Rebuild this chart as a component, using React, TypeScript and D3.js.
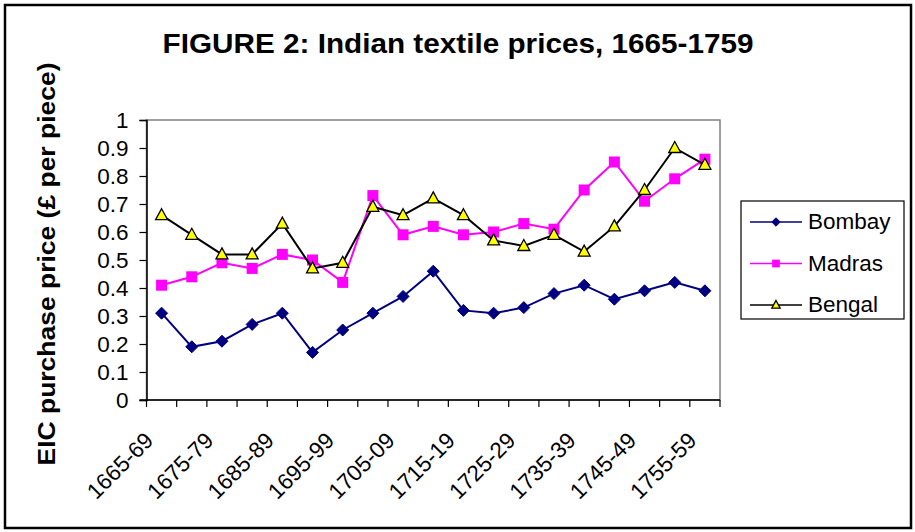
import { useEffect, useRef } from "react"
import * as d3 from "d3"

const periods = [
  "1665-69", "1670-74", "1675-79", "1680-84", "1685-89", "1690-94", "1695-99",
  "1700-04", "1705-09", "1710-14", "1715-19", "1720-24", "1725-29", "1730-34",
  "1735-39", "1740-44", "1745-49", "1750-54", "1755-59",
]
const bombay = [0.31, 0.19, 0.21, 0.27, 0.31, 0.17, 0.25, 0.31, 0.37, 0.46, 0.32, 0.31, 0.33, 0.38, 0.41, 0.36, 0.39, 0.42, 0.39]
const madras = [0.41, 0.44, 0.49, 0.47, 0.52, 0.5, 0.42, 0.73, 0.59, 0.62, 0.59, 0.6, 0.63, 0.61, 0.75, 0.85, 0.71, 0.79, 0.86]
const bengal = [0.66, 0.59, 0.52, 0.52, 0.63, 0.47, 0.49, 0.69, 0.66, 0.72, 0.66, 0.57, 0.55, 0.59, 0.53, 0.62, 0.75, 0.9, 0.84]
const yTicks = [0, 0.1, 0.2, 0.3, 0.4, 0.5, 0.6, 0.7, 0.8, 0.9, 1]

const FONT = "'Liberation Sans', Arial, sans-serif"

type Series = { name: string; values: number[]; color: string; marker: "diamond" | "square" | "triangle" }

const series: Series[] = [
  { name: "Bombay", values: bombay, color: "#000080", marker: "diamond" },
  { name: "Madras", values: madras, color: "#ff00ff", marker: "square" },
  { name: "Bengal", values: bengal, color: "#000000", marker: "triangle" },
]

function drawMarker(g: any, s: Series, x: number, y: number, k: number) {
  if (s.marker === "diamond") {
    g.append("path")
      .attr("d", `M${x},${y - 6 * k}L${x + 6 * k},${y}L${x},${y + 6 * k}L${x - 6 * k},${y}Z`)
      .attr("fill", s.color)
      .attr("stroke", s.color)
  } else if (s.marker === "square") {
    g.append("rect")
      .attr("x", x - 5.5 * k)
      .attr("y", y - 5.5 * k)
      .attr("width", 11 * k)
      .attr("height", 11 * k)
      .attr("fill", s.color)
  } else {
    g.append("path")
      .attr("d", `M${x},${y - 6.5 * k}L${x + 6 * k},${y + 4.5 * k}L${x - 6 * k},${y + 4.5 * k}Z`)
      .attr("fill", "#ffff00")
      .attr("stroke", "#000")
      .attr("stroke-width", 1.3)
  }
}

export default function App() {
  const svgRef = useRef<SVGSVGElement>(null)

  useEffect(() => {
    if (!svgRef.current) return
    const svg = d3.select(svgRef.current)
    svg.selectAll("*").remove()

    const left = 146.5
    const right = 720
    const top = 120
    const bottom = 400

    const x = d3.scaleBand().domain(periods).range([left, right]).padding(0)
    const y = d3.scaleLinear().domain([0, 1]).range([bottom, top])
    const cx = (p: string) => (x(p) || 0) + x.bandwidth() / 2

    // outer frame
    svg.append("rect")
      .attr("x", 5).attr("y", 5).attr("width", 906).attr("height", 523)
      .attr("fill", "#fff").attr("stroke", "#000").attr("stroke-width", 2.5)

    // title
    svg.append("text")
      .attr("x", 458).attr("y", 53)
      .attr("text-anchor", "middle")
      .attr("font-family", FONT).attr("font-weight", "bold").attr("font-size", 28)
      .attr("textLength", 591).attr("lengthAdjust", "spacingAndGlyphs")
      .text("FIGURE 2: Indian textile prices, 1665-1759")

    // plot area border
    svg.append("rect")
      .attr("x", left).attr("y", top).attr("width", right - left).attr("height", bottom - top)
      .attr("fill", "none").attr("stroke", "#808080").attr("stroke-width", 1.5)

    // y axis
    const yAxis = svg.append("g")
      .attr("transform", `translate(${left},0)`)
      .call(d3.axisLeft(y).tickValues(yTicks).tickSize(7).tickPadding(11).tickFormat((d) => String(+(+d).toFixed(1))))
    yAxis.selectAll("text").attr("font-family", FONT).attr("font-size", 22.5).attr("fill", "#000")
    yAxis.selectAll("line").attr("stroke", "#000").attr("stroke-width", 1.2)
    yAxis.select(".domain").attr("stroke", "#000").attr("stroke-width", 1.5)

    // x axis
    const xg = svg.append("g")
    xg.append("line")
      .attr("x1", left - 7).attr("x2", right).attr("y1", bottom).attr("y2", bottom)
      .attr("stroke", "#000").attr("stroke-width", 1.5)
    const edges = periods.map((p) => x(p) || 0).concat([right])
    xg.selectAll(".xt").data(edges).enter().append("line")
      .attr("x1", (d) => d).attr("x2", (d) => d)
      .attr("y1", bottom).attr("y2", bottom + 7)
      .attr("stroke", "#000").attr("stroke-width", 1.2)
    xg.selectAll(".xl").data(periods.filter((_, i) => i % 2 === 0)).enter().append("text")
      .attr("transform", (d) => `translate(${cx(d) - 7},${bottom + 42}) rotate(-45)`)
      .attr("text-anchor", "end")
      .attr("font-family", FONT).attr("font-size", 22.5)
      .text((d) => d)

    // y axis title
    svg.append("text")
      .attr("transform", `translate(55,${(top + bottom) / 2 + 4}) rotate(-90)`)
      .attr("text-anchor", "middle")
      .attr("font-family", FONT).attr("font-weight", "bold").attr("font-size", 23)
      .attr("textLength", 403).attr("lengthAdjust", "spacingAndGlyphs")
      .text("EIC purchase price (£ per piece)")

    // series
    const line = d3.line<number>().x((_, i) => cx(periods[i])).y((d) => y(d))
    series.forEach((s) => {
      const g = svg.append("g")
      g.append("path")
        .attr("d", line(s.values))
        .attr("fill", "none").attr("stroke", s.color).attr("stroke-width", 2)
      s.values.forEach((v, i) => drawMarker(g, s, cx(periods[i]), y(v), 1))
    })

    // legend
    const lg = svg.append("g")
    lg.append("rect")
      .attr("x", 741).attr("y", 201).attr("width", 163).attr("height", 118)
      .attr("fill", "#fff").attr("stroke", "#000").attr("stroke-width", 1.2)
    series.forEach((s, i) => {
      const ly = 222 + i * 41.5
      lg.append("line")
        .attr("x1", 750).attr("x2", 802).attr("y1", ly).attr("y2", ly)
        .attr("stroke", s.color).attr("stroke-width", 1.5)
      drawMarker(lg, s, 776, ly, 0.7)
      lg.append("text")
        .attr("x", 808).attr("y", ly + 7)
        .attr("font-family", FONT).attr("font-size", 22.5)
        .text(s.name)
    })
  }, [])

  return (
    <svg
      ref={svgRef}
      width={915}
      height={532}
      style={{ position: "absolute", left: 0, top: 0, background: "#fff" }}
    />
  )
}
